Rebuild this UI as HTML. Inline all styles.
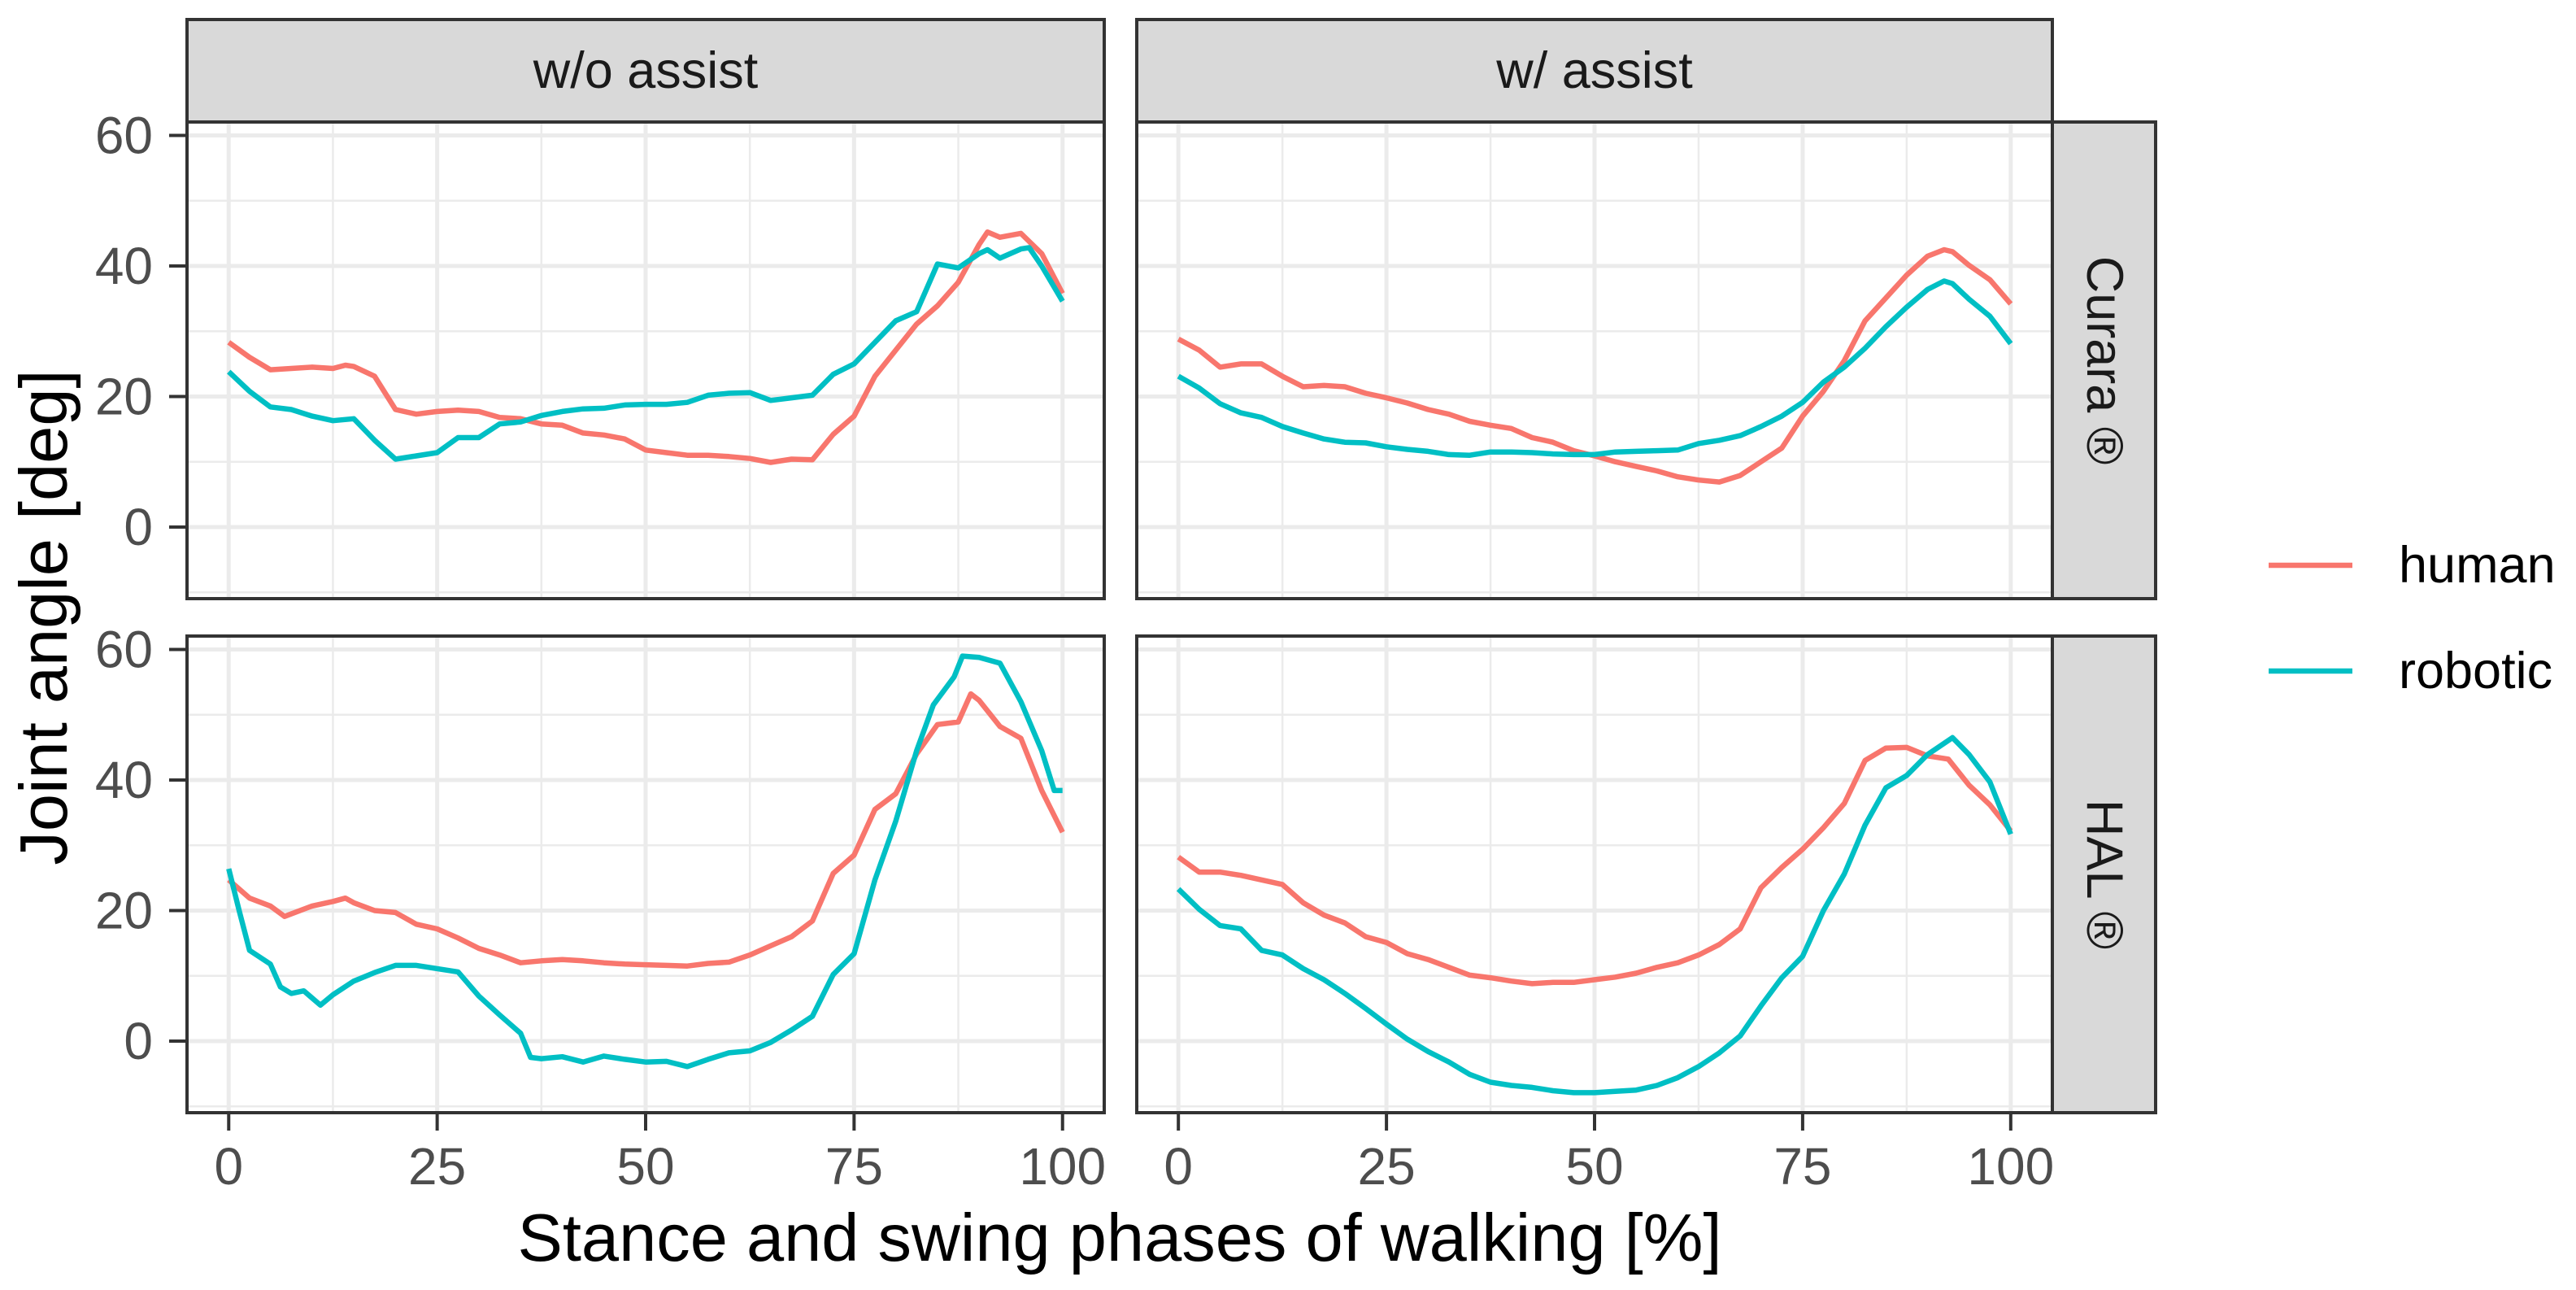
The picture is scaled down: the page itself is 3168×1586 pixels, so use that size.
<!DOCTYPE html>
<html><head><meta charset="utf-8">
<style>
html,body{margin:0;padding:0;background:#fff;}
svg{display:block;font-family:"Liberation Sans",Arial,sans-serif;}
</style></head>
<body>
<svg id="chart" width="3168" height="1586" viewBox="0 0 3168 1586" xmlns="http://www.w3.org/2000/svg"></svg>
<script>
// ---- data ----
const colLabels = ["w/o assist", "w/ assist"];
const rowLabels = ["Curara \u00AE", "HAL \u00AE"];
const seriesNames = ["human", "robotic"];
const xTicks = [0, 25, 50, 75, 100];
const yTicks = [0, 20, 40, 60];

// panel: Curara / w/o assist
const c0HumanX = [0,2.5,5,7.5,10,12.5,14,15,17.5,20,22.5,25,27.5,30,32.5,35,37.5,40,42.5,45,47.5,50,52.5,55,57.5,60,62.5,65,67.5,70,72.5,75,77.5,80,82.5,85,87.5,90,91,92.5,95,97.5,100];
const c0HumanY = [28.3,26,24.1,24.3,24.5,24.3,24.8,24.6,23.1,18,17.3,17.7,17.9,17.7,16.8,16.6,15.8,15.6,14.4,14.1,13.5,11.8,11.4,11,11,10.8,10.5,9.9,10.4,10.3,14.2,17,23.1,27.1,31.1,33.9,37.5,43.3,45.2,44.4,45,41.9,35.8];
const c0RobotX = [0,2.5,5,7.5,10,12.5,15,17.5,20,22.5,25,27.5,30,32.5,35,37.5,40,42.5,45,47.5,50,52.5,55,57.5,60,62.5,65,67.5,70,72.5,75,77.5,80,82.5,85,87.5,90,91,92.5,95,96,97.5,100];
const c0RobotY = [23.8,20.8,18.4,18,17,16.3,16.6,13.3,10.4,10.9,11.4,13.7,13.7,15.8,16.1,17.1,17.7,18.1,18.2,18.7,18.8,18.8,19.1,20.2,20.5,20.6,19.4,19.8,20.2,23.4,25,28.3,31.6,33,40.3,39.7,41.9,42.5,41.2,42.6,42.8,40,34.6];

// panel: Curara / w/ assist
const c1HumanX = [0,2.5,5,7.5,10,12.5,15,17.5,20,22.5,25,27.5,30,32.5,35,37.5,40,42.5,45,47.5,50,52.5,55,57.5,60,62.5,65,67.5,70,72.5,75,77.5,80,82.5,85,87.5,90,92,93,95,97.5,100];
const c1HumanY = [28.8,27.1,24.5,25,25,23.1,21.5,21.7,21.5,20.5,19.8,19,18,17.3,16.2,15.6,15.1,13.7,13,11.7,10.9,10,9.3,8.6,7.7,7.2,6.9,7.9,10,12.1,17,20.8,25.5,31.6,35.1,38.6,41.5,42.5,42.2,40.1,37.9,34.2];
const c1RobotX = [0,2.5,5,7.5,10,12.5,15,17.5,20,22.5,25,27.5,30,32.5,35,37.5,40,42.5,45,47.5,50,52.5,55,57.5,60,62.5,65,67.5,70,72.5,75,77.5,80,82.5,85,87.5,90,92,93,95,97.5,100];
const c1RobotY = [23.1,21.3,18.9,17.5,16.8,15.4,14.4,13.5,13,12.9,12.3,11.9,11.6,11.1,11,11.5,11.5,11.4,11.2,11.1,11.1,11.5,11.6,11.7,11.8,12.8,13.3,14,15.4,17,19.1,22.2,24.5,27.4,30.7,33.7,36.4,37.7,37.3,34.9,32.3,28.1];

// panel: HAL / w/o assist
const h0HumanX = [0,2.5,5,6.7,10,12.5,14,15,17.5,20,22.5,25,27.5,30,32.5,35,37.5,40,42.5,45,47.5,50,52.5,55,57.5,60,62.5,65,67.5,70,72.5,75,77.5,80,82.5,85,87.5,89,90,92.5,95,97.5,100];
const h0HumanY = [24.7,21.9,20.7,19.1,20.7,21.4,21.9,21.2,20,19.7,17.9,17.2,15.8,14.2,13.2,12,12.3,12.5,12.3,12,11.8,11.7,11.6,11.5,11.9,12.1,13.2,14.6,16,18.4,25.7,28.5,35.5,37.9,44,48.5,48.9,53.2,52.2,48.2,46.4,38.4,32];
const h0RobotX = [0,1.25,2.5,5,6.2,7.5,9,11,12.5,15,17.5,20,22.5,25,27.5,30,32.5,35,36.2,37.5,40,42.5,45,47.5,50,52.5,55,57.5,60,62.5,65,67.5,70,72.5,75,77.5,80,82.5,84.5,87,88,90,92.5,95,97.5,99,100];
const h0RobotY = [26.4,20,13.9,11.8,8.3,7.3,7.7,5.5,7.1,9.2,10.5,11.6,11.6,11.1,10.6,6.9,4,1.2,-2.5,-2.7,-2.4,-3.2,-2.3,-2.8,-3.2,-3.1,-3.9,-2.8,-1.8,-1.5,-0.2,1.7,3.8,10.2,13.4,24.7,33.7,44.5,51.5,55.8,59,58.8,57.9,52,44.5,38.4,38.4];

// panel: HAL / w/ assist
const h1HumanX = [0,2.5,5,7.5,10,12.5,15,17.5,20,22.5,25,27.5,30,32.5,35,37.5,40,42.5,45,47.5,50,52.5,55,57.5,60,62.5,65,67.5,70,72.5,75,77.5,80,82.5,85,87.5,90,92.5,95,97.5,100];
const h1HumanY = [28.2,25.9,25.9,25.4,24.7,24,21.2,19.3,18.1,16,15.1,13.4,12.5,11.3,10.1,9.7,9.2,8.8,9,9,9.4,9.8,10.4,11.3,12,13.2,14.8,17.2,23.5,26.6,29.4,32.7,36.4,43,44.9,45,43.7,43.2,39.2,36.2,32.2];
const h1RobotX = [0,2.5,5,7.5,10,12.5,15,17.5,20,22.5,25,27.5,30,32.5,35,37.5,40,42.5,45,47.5,50,52.5,55,57.5,60,62.5,65,67.5,70,72.5,75,77.5,80,82.5,85,87.5,90,93,95,97.5,100];
const h1RobotY = [23.3,20.2,17.7,17.2,13.9,13.2,11.1,9.4,7.3,5,2.6,0.3,-1.6,-3.2,-5.1,-6.3,-6.8,-7.1,-7.6,-7.9,-7.9,-7.7,-7.5,-6.8,-5.6,-3.9,-1.8,0.8,5.4,9.7,13,20,25.6,33.1,38.8,40.7,43.9,46.5,43.9,39.7,31.7];

// ---- layout ----
const NS = "http://www.w3.org/2000/svg";
const svg = document.getElementById('chart');
const colors = ["#F8766D", "#00BFC4"];
const panelsX = [[230,1358],[1398,2524]];
const panelsY = [[150,736],[782,1368]];
const xDomain = [-5, 105];
const yDomain = [-10.97, 62.06];
function mk(tag, attrs, parent) {
  const e = document.createElementNS(NS, tag);
  for (const k in attrs) e.setAttribute(k, attrs[k]);
  (parent || svg).appendChild(e);
  return e;
}
function xScale(c, v) { const [a,b] = panelsX[c]; return a + (v - xDomain[0]) / (xDomain[1] - xDomain[0]) * (b - a); }
function yScale(r, v) { const [a,b] = panelsY[r]; return b - (v - yDomain[0]) / (yDomain[1] - yDomain[0]) * (b - a); }

const panelData = [
  [[[c0HumanX,c0HumanY],[c0RobotX,c0RobotY]], [[c1HumanX,c1HumanY],[c1RobotX,c1RobotY]]],
  [[[h0HumanX,h0HumanY],[h0RobotX,h0RobotY]], [[h1HumanX,h1HumanY],[h1RobotX,h1RobotY]]]
];
const xMinor = [12.5, 37.5, 62.5, 87.5];
const yMinor = [-10, 10, 30, 50];

for (let r = 0; r < 2; r++) {
  for (let c = 0; c < 2; c++) {
    const [x0,x1] = panelsX[c], [y0,y1] = panelsY[r];
    const g = mk('g', {});
    
    
    const bg = mk('rect', {x:x0, y:y0, width:x1-x0, height:y1-y0, fill:'#fff'}, g);
    
    
    yMinor.forEach(v => { const l = mk('line', {x1:x0, x2:x1, y1:yScale(r,v), y2:yScale(r,v), stroke:'#EBEBEB', 'stroke-width':2.5}, g);
        });
    xMinor.forEach(v => { const l = mk('line', {y1:y0, y2:y1, x1:xScale(c,v), x2:xScale(c,v), stroke:'#EBEBEB', 'stroke-width':2.5}, g);
        });
    yTicks.forEach(v => { const l = mk('line', {x1:x0, x2:x1, y1:yScale(r,v), y2:yScale(r,v), stroke:'#EBEBEB', 'stroke-width':5}, g);
        });
    xTicks.forEach(v => { const l = mk('line', {y1:y0, y2:y1, x1:xScale(c,v), x2:xScale(c,v), stroke:'#EBEBEB', 'stroke-width':5}, g);
        });
    panelData[r][c].forEach((s, si) => {
      const pts = s[0].map((xv, i) => xScale(c, xv).toFixed(1) + ',' + yScale(r, s[1][i]).toFixed(1)).join(' ');
      const pl = mk('polyline', {points:pts, fill:'none', stroke:colors[si], 'stroke-width':6.5, 'stroke-linejoin':'round'}, g);
      
      
    });
    const bd = mk('rect', {x:x0, y:y0, width:x1-x0, height:y1-y0, fill:'none', stroke:'#333333', 'stroke-width':4}, g);
    
    
  }
}
// column strips
colLabels.forEach((t, c) => {
  const [x0,x1] = panelsX[c];
  const s = mk('rect', {x:x0, y:24, width:x1-x0, height:126, fill:'#D9D9D9', stroke:'#333333', 'stroke-width':4});
  
  
  const tx = mk('text', {x:(x0+x1)/2, y:87, 'font-size':63, fill:'#1A1A1A', 'text-anchor':'middle', 'dominant-baseline':'central'});
  tx.textContent = t;
  
  
});
// row strips
rowLabels.forEach((t, r) => {
  const [y0,y1] = panelsY[r];
  const s = mk('rect', {x:2524, y:y0, width:127, height:y1-y0, fill:'#D9D9D9', stroke:'#333333', 'stroke-width':4});
  
  
  const cy = (y0+y1)/2;
  const tx = mk('text', {x:2588, y:cy, 'font-size':63, fill:'#1A1A1A', 'text-anchor':'middle', 'dominant-baseline':'central', transform:'rotate(90 2588 ' + cy + ')'});
  tx.textContent = t;
  
  
});
// y axes
for (let r = 0; r < 2; r++) {
  yTicks.forEach(v => {
    const y = yScale(r, v);
    const tk = mk('line', {x1:208, x2:230, y1:y, y2:y, stroke:'#333333', 'stroke-width':4});
    
    
    const tl = mk('text', {x:188, y:y, 'font-size':64, fill:'#4D4D4D', 'text-anchor':'end', 'dominant-baseline':'central'});
    tl.textContent = v;
    
    
  });
}
// x axes
for (let c = 0; c < 2; c++) {
  xTicks.forEach(v => {
    const x = xScale(c, v);
    const tk = mk('line', {x1:x, x2:x, y1:1368, y2:1390, stroke:'#333333', 'stroke-width':4});
    
    
    const tl = mk('text', {x:x, y:1456, 'font-size':64, fill:'#4D4D4D', 'text-anchor':'middle'});
    tl.textContent = v;
    
    
  });
}
// axis titles
const xt = mk('text', {x:1377, y:1550, 'font-size':83, fill:'#000', 'text-anchor':'middle'});
xt.textContent = 'Stance and swing phases of walking [%]';


const yt = mk('text', {x:82, y:759, 'font-size':83, fill:'#000', 'text-anchor':'middle', transform:'rotate(-90 82 759)'});
yt.textContent = 'Joint angle [deg]';


// legend
const legY = [695, 825];
seriesNames.forEach((n, i) => {
  const g = mk('g', {});
  
  
  const l = mk('line', {x1:2790, x2:2893, y1:legY[i], y2:legY[i], stroke:colors[i], 'stroke-width':6.5}, g);
  
  
  const t = mk('text', {x:2950, y:legY[i], 'font-size':63, fill:'#000', 'dominant-baseline':'central'}, g);
  t.textContent = n;
  
  
});
</script>
</body></html>
